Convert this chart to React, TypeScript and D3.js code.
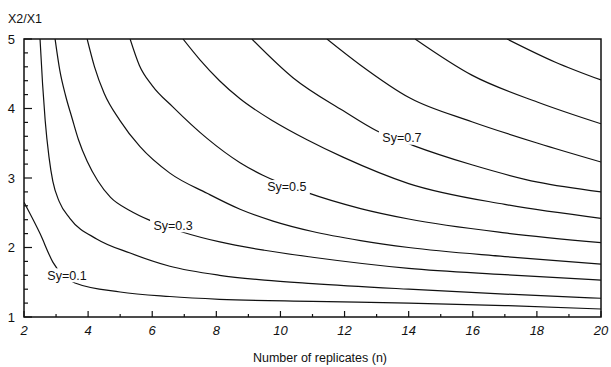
import React from "react";
import * as d3 from "d3";

// contour lines: [n, X2/X1]
const sy01 = [[2, 2.65], [2.5, 2.2], [2.9, 1.79], [3.59, 1.49], [5.0, 1.36], [6.55, 1.295], [8.1, 1.255], [11, 1.225], [14, 1.2], [17, 1.165], [20, 1.115]];
const sy02 = [[2.5, 5.0], [2.58, 4.35], [2.66, 3.83], [2.78, 3.3], [2.9, 2.95], [3.1, 2.66], [3.43, 2.42], [4.28, 2.12], [5.31, 1.92], [6.55, 1.73], [8.1, 1.6], [9.5, 1.53], [11, 1.48], [14, 1.4], [17, 1.33], [20, 1.27]];
const sy03 = [[2.97, 5.0], [3.12, 4.54], [3.3, 4.18], [3.5, 3.86], [3.7, 3.55], [3.97, 3.24], [4.3, 2.96], [4.7, 2.72], [5.31, 2.53], [5.93, 2.39], [6.96, 2.22], [8.11, 2.08], [9.5, 1.96], [11, 1.86], [14, 1.7], [17, 1.61], [20, 1.53]];
const sy04 = [[3.97, 5.0], [4.2, 4.6], [4.5, 4.22], [4.99, 3.83], [5.62, 3.45], [6.55, 3.07], [7.71, 2.78], [8.74, 2.55], [9.77, 2.38], [11, 2.23], [12.5, 2.1], [14, 2.0], [17, 1.87], [20, 1.76]];
const sy05 = [[5.31, 5.0], [5.6, 4.62], [6.0, 4.33], [6.65, 4.02], [7.71, 3.57], [8.74, 3.22], [9.45, 3.04], [10.77, 2.8], [12.5, 2.56], [14, 2.41], [17, 2.21], [20, 2.07]];
const sy06 = [[6.96, 5.0], [7.49, 4.7], [8.1, 4.4], [8.74, 4.14], [9.77, 3.82], [10.83, 3.55], [11.95, 3.3], [14, 2.92], [17, 2.62], [20, 2.42]];
const sy07 = [[9.11, 5.0], [10.4, 4.44], [11.95, 3.97], [13.0, 3.68], [14.13, 3.47], [15.97, 3.19], [18.03, 2.94], [20, 2.8]];
const sy08 = [[11.45, 5.0], [12.48, 4.63], [14.04, 4.15], [15.97, 3.81], [18.03, 3.5], [20, 3.23]];
const sy09 = [[14.2, 5.0], [15.97, 4.48], [18.03, 4.09], [20, 3.78]];
const sy10 = [[17.07, 5.0], [18.56, 4.67], [20, 4.41]];

const curves = [sy01, sy02, sy03, sy04, sy05, sy06, sy07, sy08, sy09, sy10];

const labelText = ["Sy=0.1", "Sy=0.3", "Sy=0.5", "Sy=0.7"];
const labelN = [3.34, 6.65, 10.2, 13.79];
const labelRatio = [1.6, 2.32, 2.87, 3.58];

const xTicks = [2, 4, 6, 8, 10, 12, 14, 16, 18, 20];
const yTicks = [1, 2, 3, 4, 5];

const font = "'Liberation Sans', Arial, Helvetica, sans-serif";

export default function App() {
  const x = d3.scaleLinear().domain([2, 20]).range([24, 601]);
  const y = d3.scaleLinear().domain([1, 5]).range([317, 39]);

  const line = d3
    .line<number[]>()
    .x((d) => x(d[0]))
    .y((d) => y(d[1]))
    .curve(d3.curveMonotoneX);

  const minorX = d3.range(3, 20, 2);
  const minorY = d3.range(1.2, 5, 0.2).filter((v) => Math.abs(v - Math.round(v)) > 0.01);

  return (
    <div style={{ position: "fixed", left: 0, top: 0 }}>
      <svg width={611} height={367} style={{ display: "block", background: "#fff" }} fontFamily={font}>
        <defs>
          <clipPath id="plot">
            <rect x={x(2)} y={y(5)} width={x(20) - x(2)} height={y(1) - y(5)} />
          </clipPath>
        </defs>

        <g clipPath="url(#plot)" fill="none" stroke="#111" strokeWidth={1.2}>
          {curves.map((c, i) => (
            <path key={i} d={line(c) || ""} />
          ))}
        </g>

        {labelText.map((t, i) => (
          <g key={t} transform={`translate(${x(labelN[i])},${y(labelRatio[i])})`}>
            <rect x={-23} y={-7} width={46} height={14} fill="#fff" />
            <text textAnchor="middle" dy="0.35em" fontSize={12.5} fill="#111">
              {t}
            </text>
          </g>
        ))}

        <rect
          x={x(2)}
          y={y(5)}
          width={x(20) - x(2)}
          height={y(1) - y(5)}
          fill="none"
          stroke="#111"
          strokeWidth={1.5}
        />

        <g stroke="#111" strokeWidth={1.2}>
          {xTicks.map((t) => (
            <line key={"xM" + t} x1={x(t)} x2={x(t)} y1={y(1)} y2={y(1) - 6} />
          ))}
          {minorX.map((t) => (
            <line key={"xm" + t} x1={x(t)} x2={x(t)} y1={y(1)} y2={y(1) - 3} />
          ))}
          {yTicks.map((t) => (
            <line key={"yM" + t} x1={x(2)} x2={x(2) + 8} y1={y(t)} y2={y(t)} />
          ))}
          {minorY.map((t) => (
            <line key={"ym" + t.toFixed(1)} x1={x(2)} x2={x(2) + 4} y1={y(t)} y2={y(t)} />
          ))}
        </g>

        <g fontSize={13} fill="#111">
          {xTicks.map((t) => (
            <text key={"xl" + t} x={x(t)} y={335} textAnchor="middle" fontStyle="italic">
              {t}
            </text>
          ))}
          {yTicks.map((t) => (
            <text key={"yl" + t} x={15} y={y(t)} dy="0.38em" textAnchor="end">
              {t}
            </text>
          ))}
        </g>

        <text x={8} y={23} fontSize={12.5} fill="#111">
          X2/X1
        </text>
        <text x={320} y={362} fontSize={12.5} textAnchor="middle" fill="#111">
          Number of replicates (n)
        </text>
      </svg>
    </div>
  );
}
